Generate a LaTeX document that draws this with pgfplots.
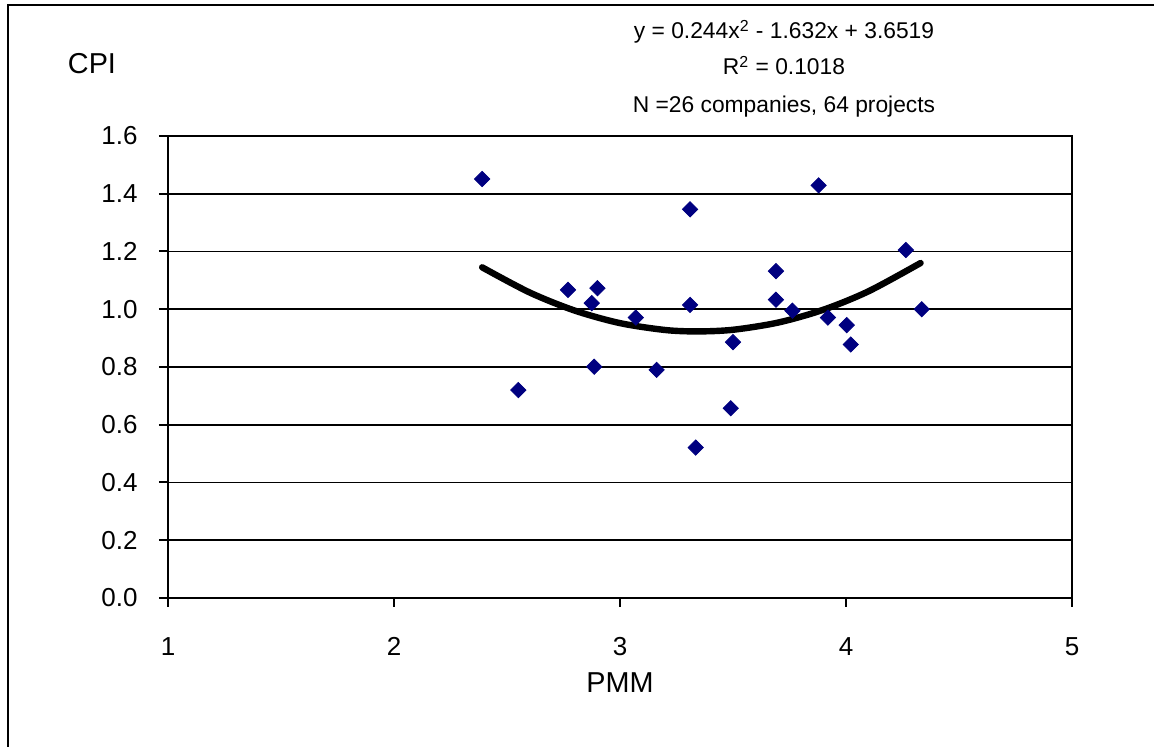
\documentclass[border=0pt]{standalone}
\usepackage{fontspec}
\setmainfont{Liberation Sans}
\usepackage{pgfplots}
\pgfplotsset{compat=1.18}

\definecolor{navy}{HTML}{000080}

\begin{document}
\begin{tikzpicture}[font=\fontsize{13}{15}\selectfont]
\useasboundingbox (-84pt,-74.5pt) rectangle (493pt,299pt);
% outer chart frame (only left and top edges show)
\draw[line width=1.2pt] (-80pt,-74.5pt) -- (-80pt,296.5pt) -- (493pt,296.5pt);

\begin{axis}[
    at={(0,0)}, anchor=south west,
    width=452pt, height=231pt, scale only axis,
    xmin=1, xmax=5, ymin=0, ymax=1.6,
    xtick={1,2,3,4,5},
    ytick={0,0.2,0.4,0.6,0.8,1.0,1.2,1.4,1.6},
    tick align=outside, xtick pos=bottom, ytick pos=left,
    major tick length=4.5pt,
    every tick/.style={black, line width=1pt},
    axis line style={line width=1pt},
    ymajorgrids, grid style={black, line width=0.9pt},
    /pgf/number format/assume math mode=true,
    tick label style={font=\fontsize{13}{15}\selectfont},
    xticklabel style={anchor=base, inner sep=0pt, yshift=-24.5pt},
    yticklabel style={anchor=east, inner sep=0pt, xshift=-10.5pt,
        /pgf/number format/.cd, fixed, fixed zerofill, precision=1},
    clip=false,
]
% quadratic trend line (Excel polynomial fit)
\addplot[black, line width=3.2pt, smooth, line cap=round] coordinates {
    (2.39,1.1452) (2.6,1.0581) (2.8,0.9953) (3.0,0.9519) (3.2,0.9281)
    (3.344,0.9232) (3.5,0.9289) (3.7,0.9539) (3.9,0.9983) (4.1,1.0623)
    (4.33,1.1601)
};
% projects
\addplot[only marks, mark=square*, mark size=2.7pt, navy,
    mark options={rotate=45, fill=navy, draw=navy}] coordinates {
    (2.39,1.451) (2.55,0.720) (2.77,1.067) (2.90,1.073) (2.875,1.021)
    (3.07,0.971) (3.31,1.346) (3.31,1.015) (3.50,0.886) (2.886,0.801)
    (3.162,0.790) (3.879,1.429) (3.69,1.132) (3.69,1.033) (3.763,0.995)
    (3.92,0.971) (4.003,0.945) (4.021,0.878) (4.265,1.205) (4.335,1.000)
    (3.49,0.657) (3.335,0.521)
};
\end{axis}

\node[anchor=base, font=\fontsize{14.4}{17}\selectfont] at (-38pt,262pt) {CPI};
\node[anchor=base, font=\fontsize{14.4}{17}\selectfont] at (226pt,-47.5pt) {PMM};
\begin{scope}[font=\fontsize{11.4}{14}\selectfont]
\node[anchor=base] at (308pt,279.5pt) {y = 0.244x\textsuperscript{2} - 1.632x + 3.6519};
\node[anchor=base] at (308pt,261.5pt) {R\textsuperscript{2} = 0.1018};
\node[anchor=base] at (308pt,242.5pt) {N =26 companies, 64 projects};
\end{scope}
\end{tikzpicture}
\end{document}
